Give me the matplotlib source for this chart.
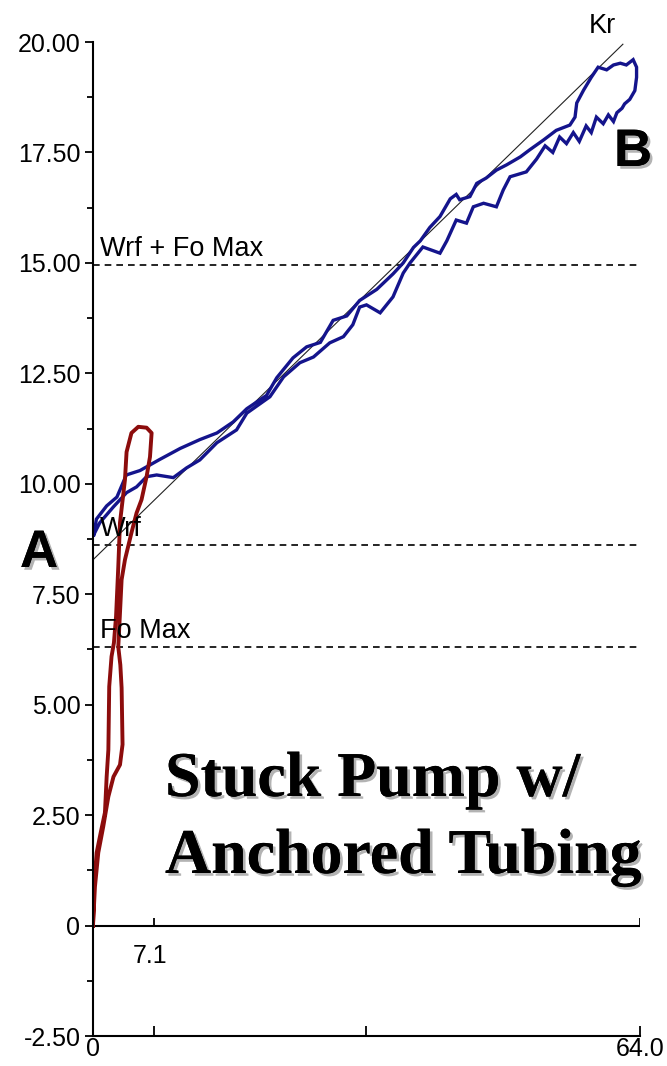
import matplotlib.pyplot as plt
import matplotlib.patheffects as pe

# dynamometer card: red = first stroke, blue = following strokes
red_x = [0.0, 0.12, 0.43, 0.9, 1.4, 1.6, 1.8, 1.9, 2.17, 2.45, 2.7, 2.96, 3.16, 3.74, 3.93,
         4.5, 5.3, 6.27, 6.86, 6.67, 6.27, 5.68, 5.1, 4.5, 3.74, 3.35, 3.16, 2.96, 3.2,
         3.35, 3.46, 3.16, 2.4, 1.8, 1.2, 0.62, 0.23, 0.0]
red_y = [0.0, 0.88, 1.65, 2.1, 2.56, 3.37, 3.98, 5.41, 6.09, 6.4, 7.0, 8.12, 9.12, 10.09, 10.72,
         11.15, 11.29, 11.27, 11.15, 10.61, 10.16, 9.64, 9.34, 8.89, 8.28, 7.83, 7.08, 6.31, 5.9,
         5.38, 4.1, 3.64, 3.37, 2.92, 2.24, 1.65, 0.88, 0.0]

upper_x = [0.1, 0.4, 1.6, 2.8, 3.9, 5.5, 7.8, 10.2, 12.5, 14.5, 16.4, 18.0, 20.3, 21.5, 23.4,
           25.0, 26.6, 28.1, 29.7, 31.2, 33.2, 35.1, 36.3, 37.5, 38.3, 39.4, 40.6, 41.8, 42.5,
           42.9, 44.1, 44.9, 46.0, 47.2, 48.4, 50.0, 51.1, 52.7, 54.2, 55.8, 56.4, 56.6, 57.4,
           58.3, 59.1, 60.1, 60.9, 61.7, 62.4, 63.2, 63.6, 63.6]
upper_y = [8.85, 9.2, 9.5, 9.7, 10.2, 10.3, 10.55, 10.8, 11.0, 11.15, 11.4, 11.7, 12.0, 12.4, 12.85,
           13.1, 13.2, 13.7, 13.8, 14.15, 14.4, 14.75, 15.0, 15.35, 15.5, 15.8, 16.05, 16.45, 16.55,
           16.43, 16.5, 16.8, 16.92, 17.1, 17.22, 17.4, 17.56, 17.78, 18.0, 18.12, 18.3, 18.62, 18.91,
           19.2, 19.43, 19.37, 19.48, 19.52, 19.48, 19.6, 19.43, 19.2]
lower_x = [63.4, 62.8, 62.2, 61.9, 61.3, 60.9, 60.3, 59.7, 58.9, 58.3, 57.7, 56.9, 56.2, 55.4,
           54.6, 53.8, 52.9, 51.9, 50.7, 48.8, 48.0, 47.2, 45.7, 44.5, 43.7, 42.5, 41.4, 40.6,
           38.6, 37.1, 36.3, 35.1, 33.6, 32.0, 31.2, 30.4, 29.3, 27.7, 25.8, 24.2, 22.3, 20.7,
           18.0, 16.8, 14.5, 12.5, 10.95, 9.4, 7.45, 6.27, 5.1, 3.93, 2.4, 0.8, 0.1]
lower_y = [18.9, 18.7, 18.6, 18.5, 18.4, 18.2, 18.35, 18.15, 18.3, 17.95, 18.1, 17.75, 17.95, 17.7,
           17.85, 17.5, 17.65, 17.35, 17.06, 16.95, 16.65, 16.27, 16.35, 16.27, 15.9, 15.97, 15.5, 15.22,
           15.36, 15.0, 14.77, 14.23, 13.87, 14.05, 14.0, 13.6, 13.33, 13.19, 12.87, 12.74, 12.42, 11.97,
           11.6, 11.22, 10.93, 10.54, 10.36, 10.14, 10.2, 10.16, 9.93, 9.8, 9.48, 9.12, 8.85]

kr_x = [0.0, 62.0]
kr_y = [8.28, 19.95]

ref_names = ['Wrf + Fo Max', 'Wrf', 'Fo Max']
ref_vals = [14.95, 8.62, 6.31]

y_ticks = [20.0, 17.5, 15.0, 12.5, 10.0, 7.5, 5.0, 2.5, 0.0, -2.5]
y_labels = ['20.00', '17.50', '15.00', '12.50', '10.00', '7.50', '5.00', '2.50', '0', '-2.50']
x_ticks = [0, 7.1, 32, 64]
x_labels = ['0', '', '', '64.0']

sans = ['Liberation Sans', 'DejaVu Sans']
navy = '#14148c'
dark_red = '#8c0c0c'

fig = plt.figure(figsize=(6.67, 10.66), dpi=100)
ax = fig.add_axes([0.1394, 0.0281, 0.8201, 0.9325])
ax.set_xlim(0, 64)
ax.set_ylim(-2.5, 20)

for s in ['top', 'right']:
    ax.spines[s].set_visible(False)
ax.spines['left'].set_linewidth(1.5)
ax.spines['bottom'].set_linewidth(1.5)

ax.set_yticks(y_ticks)
ax.set_yticklabels(y_labels, family=sans, fontsize=18)
ax.set_yticks([v + 1.25 for v in y_ticks[1:]], minor=True)
ax.tick_params(axis='y', which='major', direction='out', length=6, width=1.3, pad=3)
ax.tick_params(axis='y', which='minor', direction='out', length=4, width=1.3)
ax.set_xticks(x_ticks)
ax.set_xticklabels(x_labels, family=sans, fontsize=18)
ax.tick_params(axis='x', direction='in', length=7, width=1.3, pad=1)

# zero line with its own ticks
ax.axhline(0, color='black', lw=1.5)
ax.vlines(x_ticks[1::2], 0, 0.17, color='black', lw=1.3)
ax.text(6.7, -0.85, '7.1', family=sans, fontsize=18, ha='center', va='baseline')

for name, v in zip(ref_names, ref_vals):
    ax.plot([0, 64], [v, v], color='black', lw=1.2, ls=(0, (4, 3)))
    ax.text(0.8, v + 0.2, name, family=sans, fontsize=19.5, va='baseline')

ax.plot(kr_x, kr_y, color='#222222', lw=0.8)
ax.text(58.0, 20.2, 'Kr', family=sans, fontsize=19.5, va='baseline', clip_on=False)

ax.plot(upper_x + lower_x, upper_y + lower_y, color=navy, lw=2.4, solid_joinstyle='miter')
ax.plot(red_x, red_y, color=dark_red, lw=2.8)

shadow = [pe.withSimplePatchShadow(offset=(2, -2), shadow_rgbFace='#a0a0a0', alpha=0.8), pe.Normal()]
fig.text(20 / 667, 1 - 567 / 1066, 'A', fontsize=38, weight='bold', family='Liberation Sans',
         path_effects=shadow)
fig.text(614 / 667, 1 - 166 / 1066, 'B', fontsize=38, weight='bold', family='Liberation Sans',
         path_effects=shadow)
fig.text(165 / 667, 1 - 796 / 1066, 'Stuck Pump w/', fontsize=46, weight='bold',
         family='Liberation Serif', path_effects=shadow)
fig.text(165 / 667, 1 - 873 / 1066, 'Anchored Tubing', fontsize=46, weight='bold',
         family='Liberation Serif', path_effects=shadow)

fig.savefig('out.png', dpi=100)
